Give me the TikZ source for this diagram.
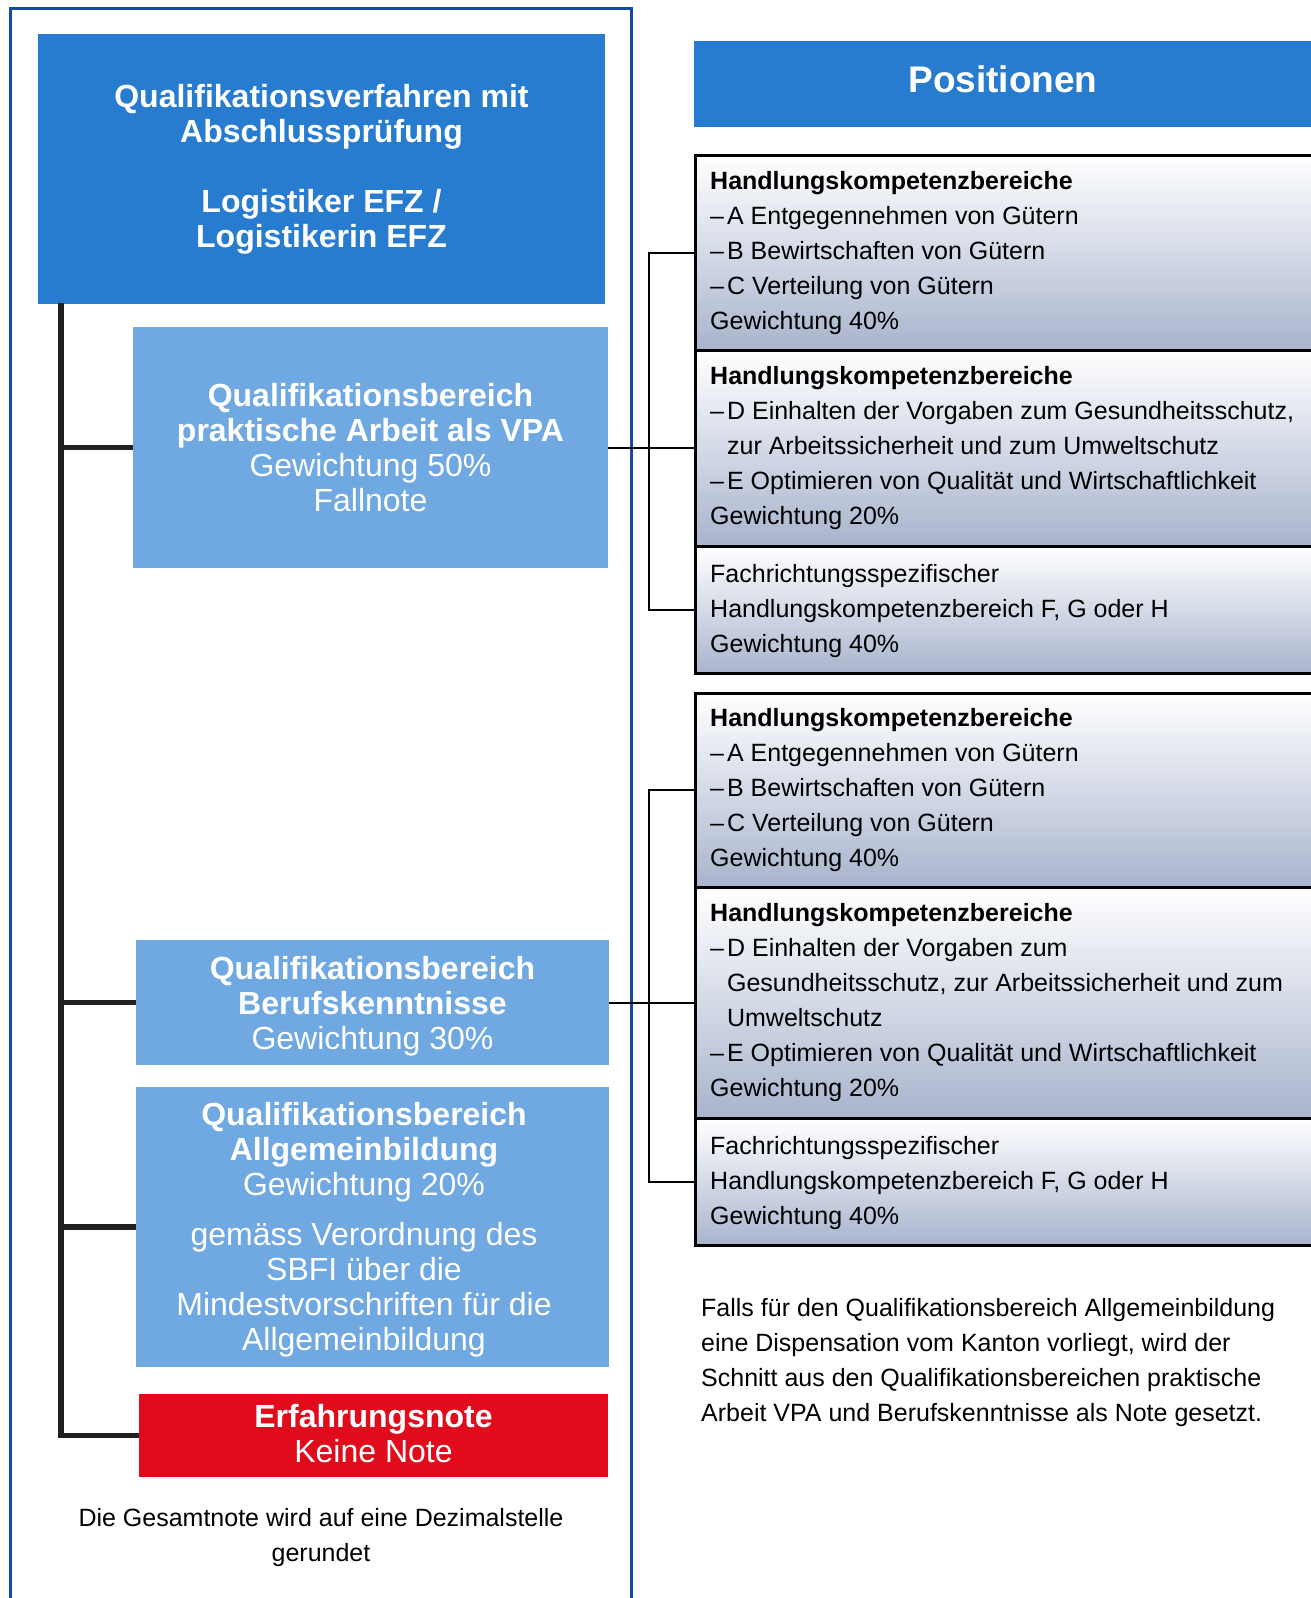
\documentclass[tikz,border=0pt]{standalone}
\usepackage{fontspec}
\setmainfont{Liberation Sans}
\definecolor{framecol}{RGB}{22,72,165}
\definecolor{darkbox}{RGB}{40,124,208}
\definecolor{lightbox}{RGB}{112,168,225}
\definecolor{redbox}{RGB}{224,12,28}
\definecolor{gradbot}{RGB}{168,180,205}
\definecolor{spinecol}{RGB}{32,32,32}
\newcommand{\dsh}{–\hspace{3pt}}
\begin{document}
\begin{tikzpicture}[x=1pt,y=-1pt,
  boxbase/.style={inner sep=0pt, align=center, text=white},
  darkstyle/.style={boxbase, fill=darkbox, font=\fontsize{32}{35}\selectfont\bfseries},
  lightstyle/.style={boxbase, fill=lightbox, font=\fontsize{32}{35}\selectfont},
  lighttext/.style={boxbase, font=\fontsize{32}{35}\selectfont},
  redstyle/.style={boxbase, fill=redbox, font=\fontsize{32}{35}\selectfont},
  gradbox/.style={draw=black, line width=2.5pt, top color=white, bottom color=gradbot, minimum width=640pt, inner sep=0pt, anchor=north west},
  bodytext/.style={inner sep=0pt, anchor=north west, align=left, font=\fontsize{25}{35}\selectfont},
  spine/.style={draw=spinecol, line width=5.5pt, line join=miter},
  conn/.style={draw=black, line width=2pt}]
\useasboundingbox (0,0) rectangle (1311,1598);
\clip (0,0) rectangle (1311,1598);
% outer frame
\draw[framecol, line width=3pt] (10,8) rectangle (631,1620);
% left column boxes
\node[darkstyle, minimum width=567pt, minimum height=270pt] (title) at (321.5,169)
  {Qualifikationsverfahren mit\\Abschlussprüfung\\[35pt]Logistiker EFZ /\\Logistikerin EFZ};
\node[lightstyle, minimum width=475pt, minimum height=241pt] (vpa) at (370.5,447.5)
  {\textbf{Qualifikationsbereich}\\\textbf{praktische Arbeit als VPA}\\Gewichtung 50\%\\Fallnote};
\node[lightstyle, minimum width=473pt, minimum height=125pt] (beruf) at (372.5,1002.5) {};
\node[lighttext] (beruftext) at (372.5,1006)
  {\textbf{Qualifikationsbereich}\\\textbf{Berufskenntnisse}\\Gewichtung 30\%};
\node[lightstyle, minimum width=473pt, minimum height=280pt] (allg) at (372.5,1227) {};
\node[lighttext] (allgtext) at (364,1229.5)
  {\textbf{Qualifikationsbereich}\\\textbf{Allgemeinbildung}\\Gewichtung 20\%\\[15pt]gemäss Verordnung des\\SBFI über die\\Mindestvorschriften für die\\Allgemeinbildung};
\node[redstyle, minimum width=469pt, minimum height=83pt] (erf) at (373.5,1435.5) {};
\node[lighttext] (erftext) at (373.5,1433.5)
  {\textbf{Erfahrungsnote}\\Keine Note};
\node[inner sep=0pt, align=center, font=\fontsize{25}{35}\selectfont] (gesamt) at (321,1537.5)
  {Die Gesamtnote wird auf eine Dezimalstelle\\gerundet};
% spine
\coordinate (spinetop) at (61,303);
\draw[spine] (spinetop) |- (erf.west);
\draw[spine] (spinetop |- vpa.west) -- (vpa.west);
\draw[spine] (spinetop |- beruf.west) -- (beruf.west);
\draw[spine] (spinetop |- allg.west) -- (allg.west);
% right header
\node[darkstyle, anchor=north west, minimum width=617pt, minimum height=86pt] (pos) at (694,41) {};
\node[inner sep=0pt, text=white, anchor=base, font=\fontsize{37}{40}\selectfont\bfseries] (postext) at (1003,92) {Positionen};
% right group 1
\node[gradbox, minimum height=195pt] (b11) at (694,154) {};
\node[gradbox, minimum height=196pt] (b12) at (694,349) {};
\node[gradbox, minimum height=127pt] (b13) at (694,545) {};
\node[bodytext] (t11) at (710,164.5)
  {\strut\textbf{Handlungskompetenzbereiche}\\\dsh A Entgegennehmen von Gütern\\\dsh B Bewirtschaften von Gütern\\\dsh C Verteilung von Gütern\\Gewichtung 40\%};
\node[bodytext] (t12) at (710,360)
  {\strut\textbf{Handlungskompetenzbereiche}\\\dsh D Einhalten der Vorgaben zum Gesundheitsschutz,\\\hphantom{\dsh}zur Arbeitssicherheit und zum Umweltschutz\\\dsh E Optimieren von Qualität und Wirtschaftlichkeit\\Gewichtung 20\%};
\node[bodytext] (t13) at (710,558)
  {\strut Fachrichtungsspezifischer\\Handlungskompetenzbereich F, G oder H\\Gewichtung 40\%};
% right group 2
\node[gradbox, minimum height=194pt] (b21) at (694,692) {};
\node[gradbox, minimum height=231pt] (b22) at (694,886) {};
\node[gradbox, minimum height=127pt] (b23) at (694,1117) {};
\node[bodytext] (t21) at (710,702)
  {\strut\textbf{Handlungskompetenzbereiche}\\\dsh A Entgegennehmen von Gütern\\\dsh B Bewirtschaften von Gütern\\\dsh C Verteilung von Gütern\\Gewichtung 40\%};
\node[bodytext] (t22) at (710,897)
  {\strut\textbf{Handlungskompetenzbereiche}\\\dsh D Einhalten der Vorgaben zum\\\hphantom{\dsh}Gesundheitsschutz, zur Arbeitssicherheit und zum\\\hphantom{\dsh}Umweltschutz\\\dsh E Optimieren von Qualität und Wirtschaftlichkeit\\Gewichtung 20\%};
\node[bodytext] (t23) at (710,1130)
  {\strut Fachrichtungsspezifischer\\Handlungskompetenzbereich F, G oder H\\Gewichtung 40\%};
% right note
\node[bodytext] (falls) at (701,1292)
  {\strut Falls für den Qualifikationsbereich Allgemeinbildung\\eine Dispensation vom Kanton vorliegt, wird der\\Schnitt aus den Qualifikationsbereichen praktische\\Arbeit VPA und Berufskenntnisse als Note gesetzt.};
% connectors
\coordinate (j1) at (649,447);
\coordinate (j2) at (649,1002);
\draw[conn] (b11.west) -| (j1) |- (b13.west);
\draw[conn] (vpa.east) -- (vpa.east -| b12.west);
\draw[conn] (b21.west) -| (j2) |- (b23.west);
\draw[conn] (beruf.east) -- (beruf.east -| b22.west);
\end{tikzpicture}
\end{document}
